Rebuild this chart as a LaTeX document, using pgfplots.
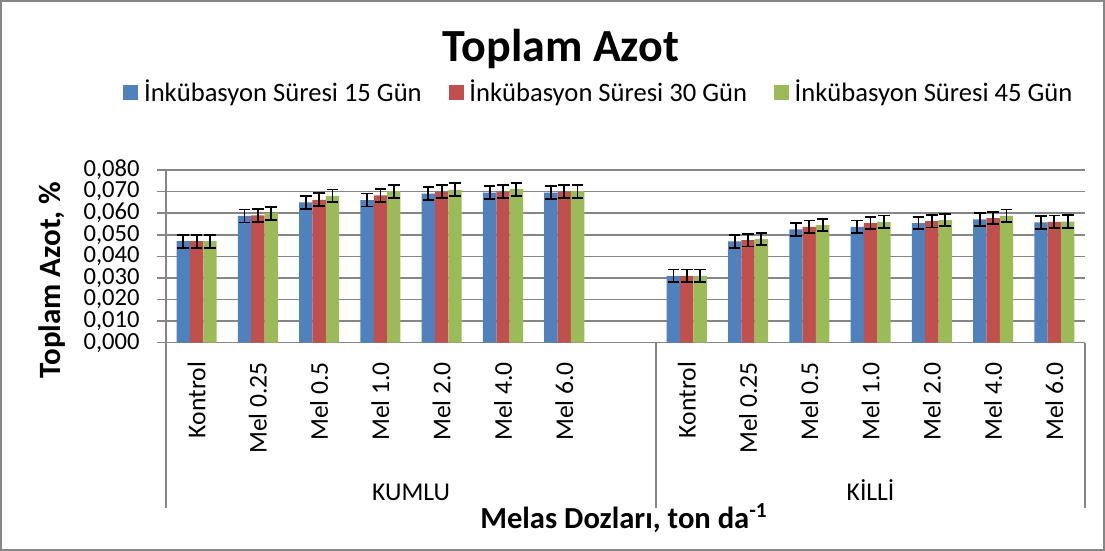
\documentclass[border=0pt]{standalone}
\usepackage{pgfplots}
\pgfplotsset{compat=1.18}
\usepackage{pgfplotstable}
\usepackage{fontspec}
\setmainfont{Carlito}
\definecolor{s1}{HTML}{4F81BD}
\definecolor{s2}{HTML}{C0504D}
\definecolor{s3}{HTML}{9BBB59}
\definecolor{gridc}{HTML}{868686}

\pgfplotstableread{
x  a       b       c       e
0  0.0470  0.0470  0.0470  0.0030
1  0.0587  0.0590  0.0600  0.0030
2  0.0650  0.0662  0.0680  0.0030
3  0.0661  0.0683  0.0702  0.0030
4  0.0690  0.0700  0.0708  0.0030
5  0.0695  0.0700  0.0711  0.0030
6  0.0695  0.0700  0.0702  0.0030
8  0.0310  0.0310  0.0310  0.0029
9  0.0469  0.0475  0.0480  0.0029
10 0.0525  0.0537  0.0545  0.0029
11 0.0537  0.0554  0.0560  0.0029
12 0.0554  0.0563  0.0568  0.0029
13 0.0571  0.0577  0.0588  0.0029
14 0.0557  0.0560  0.0561  0.0029
}\data

\pgfplotsset{
  errstyle/.style={
    error bars/.cd, y dir=both, y explicit,
    error bar style={black, line width=0.9pt},
    error mark options={rotate=90, black, line width=0.9pt, mark size=2.9pt}},
}

\begin{document}
\begin{tikzpicture}
\useasboundingbox (0,0) rectangle (552.5pt,-275.5pt);
\draw[gridc, line width=0.75pt] (0.5pt,-0.5pt) rectangle (552pt,-275pt);
\begin{axis}[
  at={(83pt,-171.35pt)}, anchor=south west,
  scale only axis, width=459.5pt, height=86.35pt,
  xmin=-0.5, xmax=14.5, ymin=0, ymax=0.08,
  ytick={0,0.01,0.02,0.03,0.04,0.05,0.06,0.07,0.08},
  scaled y ticks=false,
  ymajorgrids, grid style={gridc, line width=0.75pt},
  axis x line*=bottom, axis y line*=left,
  axis line style={gridc, line width=0.75pt},
  tick align=outside, major tick length=4.5pt,
  ytick style={gridc, line width=0.75pt},
  xtick style={draw=none},
  yticklabel style={/pgf/number format/fixed, /pgf/number format/fixed zerofill, /pgf/number format/precision=3, /pgf/number format/use comma, /pgf/number format/assume math mode=true,
    font=\fontsize{12.3}{14}\selectfont, inner sep=0pt, xshift=-8.5pt},
  xtick={0,1,2,3,4,5,6,8,9,10,11,12,13,14},
  xticklabels={Kontrol,Mel 0.25,Mel 0.5,Mel 1.0,Mel 2.0,Mel 4.0,Mel 6.0,Kontrol,Mel 0.25,Mel 0.5,Mel 1.0,Mel 2.0,Mel 4.0,Mel 6.0},
  xticklabel style={font=\fontsize{12.8}{15}\selectfont, inner sep=0pt, yshift=-5pt, rotate=90, anchor=east},
  clip=false,
  legend columns=3,
  legend style={at={(0.470,1.449)}, anchor=center, draw=none, fill=none,
    font=\fontsize{13.3}{15}\selectfont, nodes={inner sep=0pt},
    /tikz/every odd column/.append style={column sep=2.8pt},
    /tikz/every even column/.append style={column sep=13.5pt}},
  legend image code/.code={\fill[#1] (0pt,-3.75pt) rectangle (7.5pt,3.75pt);},
  legend cell align=left,
]
\addplot[ybar, fill=s1, draw=none, bar width=0.218, bar shift=0, errstyle]
  table[x expr=\thisrow{x}-0.218, y=a, y error=e] {\data};
\addlegendentry{İnkübasyon Süresi 15 Gün}
\addplot[ybar, fill=s2, draw=none, bar width=0.218, bar shift=0, errstyle]
  table[x=x, y=b, y error=e] {\data};
\addlegendentry{İnkübasyon Süresi 30 Gün}
\addplot[ybar, fill=s3, draw=none, bar width=0.218, bar shift=0, errstyle]
  table[x expr=\thisrow{x}+0.218, y=c, y error=e] {\data};
\addlegendentry{İnkübasyon Süresi 45 Gün}
\draw[gridc, line width=0.75pt] (axis cs:-0.5,0) -- ([yshift=-82.5pt]axis cs:-0.5,0);
\draw[gridc, line width=0.75pt] (axis cs:7.5,0) -- ([yshift=-82.5pt]axis cs:7.5,0);
\draw[gridc, line width=0.75pt] (axis cs:14.5,0) -- ([yshift=-82.5pt]axis cs:14.5,0);
\node[anchor=base, font=\fontsize{12.8}{15}\selectfont] at ([yshift=-78.65pt]axis cs:3.5,0) {KUMLU};
\node[anchor=base, font=\fontsize{12.8}{15}\selectfont] at ([yshift=-78.65pt]axis cs:11,0) {KİLLİ};
\end{axis}
\node[anchor=base, font=\bfseries\fontsize{23}{27}\selectfont] at (280.5pt,-31pt) {Toplam Azot};
\node[anchor=base, font=\bfseries\fontsize{15.3}{18}\selectfont] at (312pt,-264pt) {Melas Dozları, ton da\textsuperscript{-1}};
\node[rotate=90, font=\bfseries\fontsize{15.5}{18}\selectfont] at (26pt,-140pt) {Toplam Azot, \%};
\end{tikzpicture}
\end{document}
